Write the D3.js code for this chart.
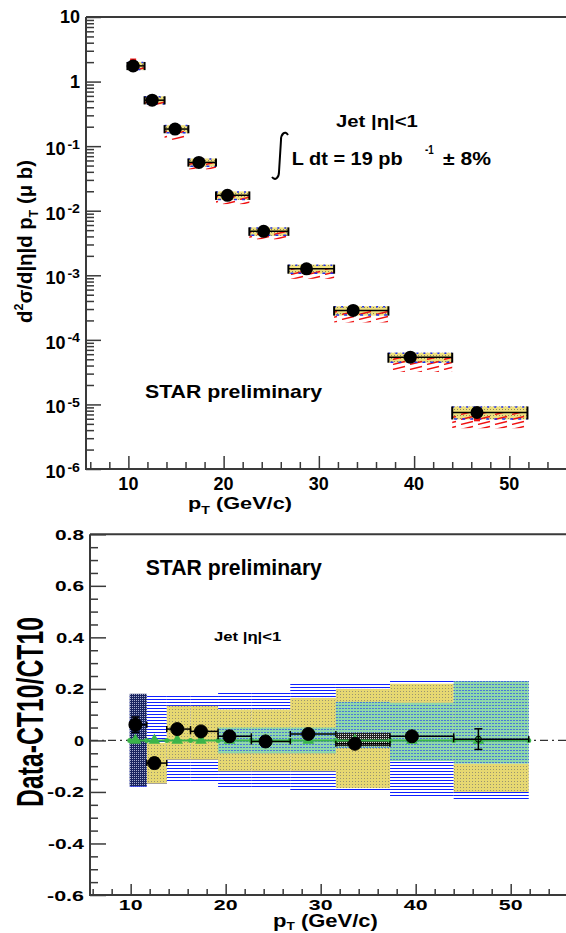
<!DOCTYPE html>
<html><head><meta charset="utf-8">
<script src="https://cdn.jsdelivr.net/npm/d3@7"></script>
<style>
body{margin:0;background:#fff}
svg{display:block}
text{font-family:"Liberation Sans",Arial,Helvetica,sans-serif;font-weight:bold;fill:#000}
</style>
</head><body>
<svg id="c" width="566" height="933"></svg>
<script>
// ---------------- data ----------------
const binLo=[9.9,11.7,13.8,16.3,19.2,22.7,26.8,31.6,37.3,44.0];
const binHi=[11.7,13.8,16.3,19.2,22.7,26.8,31.6,37.3,44.0,51.9];
const ptCenter=[10.5,12.5,14.9,17.4,20.4,24.2,28.7,33.6,39.6,46.6];
// cross section (micro-barn)
const xsec=[1.75,0.515,0.184,0.056,0.0173,0.0048,0.00126,0.000286,0.000054,0.0000075];
const sysUp=[0.15,0.15,0.15,0.15,0.15,0.15,0.16,0.16,0.17,0.24];
const sysDown=[0.14,0.14,0.14,0.14,0.15,0.15,0.16,0.17,0.18,0.22];
const redDown=[0.16,0.19,0.32,0.22,0.27,0.25,0.3,0.35,0.41,0.43];
const redBarUp=[0.3,0,0,0,0,0,0,0,0,0];
const redBarDown=[0,0,0,0,0,0,0,0,0.15,0.27];
// ratio panel
const ratio=[0.061,-0.088,0.044,0.035,0.016,-0.004,0.025,-0.013,0.016,0.005];
const ratioStat=[0.03,0.02,0.015,0.015,0.01,0.01,0.012,0.012,0.015,0.04];
const blueLo=[-0.18,-0.17,-0.165,-0.165,-0.185,-0.185,-0.2,-0.2,-0.22,-0.235];
const blueHi=[0.18,0.175,0.18,0.18,0.185,0.19,0.22,0.22,0.235,0.235];
const yellowLo=[null,-0.168,-0.075,-0.075,-0.12,-0.12,-0.12,-0.185,-0.08,-0.2];
const yellowHi=[null,-0.01,0.134,0.134,0.12,0.12,0.165,0.2,0.22,-0.09];
const greenLo=[null,null,null,null,-0.05,-0.05,-0.05,-0.03,-0.08,-0.09];
const greenHi=[null,null,null,null,0.05,0.05,0.05,0.15,0.146,0.23];
const navyLo=[-0.178,null,null,null,null,null,null,null,null,null];
const navyHi=[0.181,null,null,null,null,null,null,null,null,null];
const blackBoxLo=[null,null,null,null,null,null,null,-0.023,null,null];
const blackBoxHi=[null,null,null,null,null,null,null,0.03,null,null];
// ticks
const xTickVals=[10,20,30,40,50];
const xTickLabels=["10","20","30","40","50"];
const yTopTicks=[10,1,0.1,0.01,1e-3,1e-4,1e-5,1e-6];
const yTopBase=["10","1","10","10","10","10","10","10"];
const yTopExp=["","","-1","-2","-3","-4","-5","-6"];
const yBotTicks=[-0.6,-0.4,-0.2,0,0.2,0.4,0.6,0.8];
const yBotLabels=["-0.6","-0.4","-0.2","0","0.2","0.4","0.6","0.8"];

// ---------------- scales ----------------
const xTop=d3.scaleLinear().domain([5.55,60]).range([86,604.6]);
const yTop=d3.scaleLog().domain([1e-6,10]).range([469,17]);
const xBot=d3.scaleLinear().domain([5.72,60]).range([90,605.7]);
const yBot=d3.scaleLinear().domain([-0.6,0.8]).range([895,534.3]);

const svg=d3.select("#c");
const defs=svg.append("defs");
function pat(id,w,h,build,tr){const p=defs.append("pattern").attr("id",id).attr("patternUnits","userSpaceOnUse").attr("width",w).attr("height",h);if(tr)p.attr("patternTransform",tr);build(p);}
pat("yel",3,3,p=>{p.append("rect").attr("width",3).attr("height",3).attr("fill","#efe07e");p.append("rect").attr("x",1).attr("y",1).attr("width",1).attr("height",1).attr("fill","#8a8660");});
pat("yelB",3,3,p=>{p.append("rect").attr("width",3).attr("height",3).attr("fill","#e6d872");p.append("rect").attr("x",1).attr("y",1).attr("width",1).attr("height",1).attr("fill","#9a9470");});
pat("blueL",4,3,p=>{p.append("rect").attr("y",0).attr("width",4).attr("height",1).attr("fill","#1020ff");});
pat("grn",3,3,p=>{p.append("rect").attr("width",3).attr("height",3).attr("fill","#8fd8aa");p.append("rect").attr("width",2).attr("height",1).attr("fill","#4a78d8");});
pat("navy",2,2,p=>{p.append("rect").attr("width",2).attr("height",2).attr("fill","#1a2560");p.append("rect").attr("width",1).attr("height",1).attr("fill","#a8aed0");});
pat("blk",2,2,p=>{p.append("rect").attr("width",2).attr("height",2).attr("fill","#222");p.append("rect").attr("width",1).attr("height",1).attr("fill","#ddd");});
pat("redH",17,5,p=>{p.append("line").attr("x1",2).attr("y1",4.5).attr("x2",14).attr("y2",1.5).attr("stroke","#f01010").attr("stroke-width",1.3);});

function label(g,build,x,y,size,opt={}){
  const t=g.append("text").attr("font-size",size).attr("text-anchor",opt.anchor||"start");
  if(typeof build==="string") t.text(build); else build(t,size);
  const w=t.node().getBBox().width;
  const kx=opt.len?opt.len/w:1;
  t.attr("transform",`translate(${x},${y}) rotate(${opt.rot||0}) scale(${kx},${opt.ky||1})`);
  return t;
}
const frameCol="#3a3a3a";
const idx=d3.range(binLo.length);

// ================= TOP PANEL =================
const gt=svg.append("g");
gt.append("path").attr("d",`M86,17V469H566M86,17H566`).attr("fill","none").attr("stroke",frameCol).attr("stroke-width",2);
function styleAxis(g){g.select(".domain").remove();g.selectAll("line").attr("stroke",frameCol).attr("stroke-width",1.5);g.selectAll("text").remove();}
gt.append("g").attr("transform","translate(0,469)").call(d3.axisBottom(xTop).tickValues(xTickVals).tickSizeInner(-13).tickSizeOuter(0).tickFormat("")).call(styleAxis);
const xMinor=d3.range(6,60,2).filter(v=>v%10!==0);
gt.append("g").attr("transform","translate(0,469)").call(d3.axisBottom(xTop).tickValues(xMinor).tickSizeInner(-7).tickSizeOuter(0).tickFormat("")).call(styleAxis);
gt.append("g").attr("transform","translate(86,0)").call(d3.axisLeft(yTop).tickValues(yTopTicks).tickSizeInner(-15).tickSizeOuter(0).tickFormat("")).call(styleAxis);
const yMinor=[];[1e-6,1e-5,1e-4,1e-3,1e-2,1e-1,1].forEach(d=>{for(let k=2;k<=9;k++)yMinor.push(k*d);});
gt.append("g").attr("transform","translate(86,0)").call(d3.axisLeft(yTop).tickValues(yMinor).tickSizeInner(-8).tickSizeOuter(0).tickFormat("")).call(styleAxis);
xTickVals.forEach((v,i)=>label(gt,xTickLabels[i],xTop(v),490,18,{anchor:"middle"}));
yTopTicks.forEach((v,i)=>{
  const y=yTop(v);
  if(yTopExp[i]===""){label(gt,yTopBase[i],80,y+6.3,18,{anchor:"end"});}
  else{label(gt,yTopBase[i],65.5,y+9,18,{anchor:"end"});label(gt,yTopExp[i],80,y+2.5,12,{anchor:"end",len:13});}
});
label(gt,(t,s)=>{t.append("tspan").text("p");t.append("tspan").attr("font-size",s*0.65).attr("dy",s*0.3).text("T");t.append("tspan").attr("dy",-s*0.3).text(" (GeV/c)");},188,509,17,{len:104});
label(gt,(t,s)=>{t.append("tspan").text("d");t.append("tspan").attr("font-size",s*0.62).attr("dy",-s*0.4).text("2");t.append("tspan").attr("dy",s*0.4).text("σ/d|η|d p");t.append("tspan").attr("font-size",s*0.62).attr("dy",s*0.3).text("T");t.append("tspan").attr("dy",-s*0.3).text(" (μ b)");},31.5,241.5,21,{anchor:"middle",rot:-90,len:163});
label(gt,"STAR preliminary",145,398,18.5,{len:178});
label(gt,"Jet |η|<1",336,126.7,16,{len:82});
gt.append("path").attr("d","M288,135 C285,130 281,134 281,140 L279,172 C279,178 275,181 272,177").attr("fill","none").attr("stroke","#000").attr("stroke-width",2);
label(gt,"L dt  = 19 pb",291.7,165,18.5,{len:111});
label(gt,"-1",425,154,12,{len:9});
label(gt,"± 8%",443,165,18.5,{len:48});

const tb=gt.append("g");
idx.forEach(i=>{
  const x0=xTop(binLo[i]),x1=xTop(binHi[i]),v=xsec[i];
  const yU=yTop(v*(1+sysUp[i])),yD=yTop(v*(1-sysDown[i])),yc=yTop(v);
  tb.append("rect").attr("x",x0).attr("y",yU).attr("width",x1-x0).attr("height",yD-yU).attr("fill","url(#yel)");
  tb.append("rect").attr("x",x0).attr("y",yc).attr("width",x1-x0).attr("height",yTop(v*(1-redDown[i]))-yc).attr("fill","url(#redH)");
  tb.append("line").attr("x1",x0).attr("x2",x1).attr("y1",yU+0.5).attr("y2",yU+0.5).attr("stroke","#2030f0").attr("stroke-width",1.5).attr("stroke-dasharray","2,5");
  tb.append("line").attr("x1",x0+2).attr("x2",x1).attr("y1",yD-0.5).attr("y2",yD-0.5).attr("stroke","#2030f0").attr("stroke-width",1.5).attr("stroke-dasharray","3,5");
  tb.append("line").attr("x1",x0).attr("x2",x1).attr("y1",yc).attr("y2",yc).attr("stroke","#000").attr("stroke-width",1.5);
  [x0,x1].forEach(xx=>tb.append("line").attr("x1",xx).attr("x2",xx).attr("y1",yU).attr("y2",yD).attr("stroke","#000").attr("stroke-width",2));
  if(redBarUp[i]>0||redBarDown[i]>0){
    const ru=yTop(v*(1+redBarUp[i])),rd=yTop(v*(1-redBarDown[i]));
    tb.append("rect").attr("x",xTop(ptCenter[i])-3).attr("y",ru).attr("width",6).attr("height",rd-ru).attr("fill","#ee1111");
  }
  tb.append("circle").attr("cx",xTop(ptCenter[i])).attr("cy",yc).attr("r",6.5).attr("fill","#000");
});

// ================= BOTTOM PANEL =================
const gb=svg.append("g");
gb.append("line").attr("x1",90).attr("x2",566).attr("y1",yBot(0)).attr("y2",yBot(0)).attr("stroke","#333").attr("stroke-width",1.2).attr("stroke-dasharray","8,4,2,4");
function band(lo,hi,fill){idx.forEach(i=>{if(lo[i]===null||hi[i]===null)return;const x0=xBot(binLo[i]),x1=xBot(binHi[i]);gb.append("rect").attr("x",x0).attr("y",yBot(hi[i])).attr("width",x1-x0).attr("height",yBot(lo[i])-yBot(hi[i])).attr("fill",fill);});}
band(blueLo,blueHi,"url(#blueL)");
band(yellowLo,yellowHi,"url(#yelB)");
band(greenLo,greenHi,"url(#grn)");
band(navyLo,navyHi,"url(#navy)");
band(blackBoxLo,blackBoxHi,"url(#blk)");
gb.append("line").attr("x1",xBot(binLo[0])).attr("x2",xBot(binHi[binHi.length-1])).attr("y1",yBot(0)).attr("y2",yBot(0)).attr("stroke","#3bb54a").attr("stroke-width",2);
const edges=binLo.concat([binHi[binHi.length-1]]);
edges.forEach(e=>gb.append("circle").attr("cx",xBot(e)).attr("cy",yBot(0)).attr("r",2.5).attr("fill","#3bb54a"));
idx.forEach(i=>gb.append("path").attr("d",d3.symbol(d3.symbolTriangle).size(60)()).attr("transform",`translate(${xBot(ptCenter[i])},${yBot(0)})`).attr("fill","#3bb54a"));
idx.forEach(i=>{
  const x0=xBot(binLo[i]),x1=xBot(binHi[i]),xc=xBot(ptCenter[i]),yc=yBot(ratio[i]);
  gb.append("line").attr("x1",x0).attr("x2",x1).attr("y1",yc).attr("y2",yc).attr("stroke","#000").attr("stroke-width",1.5);
  [x0,x1].forEach(xx=>gb.append("line").attr("x1",xx).attr("x2",xx).attr("y1",yc-3).attr("y2",yc+3).attr("stroke","#000").attr("stroke-width",1.5));
  const yu=yBot(ratio[i]+ratioStat[i]),yd=yBot(ratio[i]-ratioStat[i]);
  gb.append("line").attr("x1",xc).attr("x2",xc).attr("y1",yu).attr("y2",yd).attr("stroke","#000").attr("stroke-width",1.5);
  [yu,yd].forEach(yy=>gb.append("line").attr("x1",xc-4).attr("x2",xc+4).attr("y1",yy).attr("y2",yy).attr("stroke","#000").attr("stroke-width",1.5));
  gb.append("circle").attr("cx",xc).attr("cy",yc).attr("r",i===9?3:6.5).attr("fill",i===9?"none":"#000").attr("stroke","#000").attr("stroke-width",1);
});
gb.append("path").attr("d",`M90,534.3V895H566M90,534.3H566`).attr("fill","none").attr("stroke",frameCol).attr("stroke-width",2);
gb.append("g").attr("transform","translate(0,895)").call(d3.axisBottom(xBot).tickValues(xTickVals).tickSizeInner(-11).tickSizeOuter(0).tickFormat("")).call(styleAxis);
gb.append("g").attr("transform","translate(0,895)").call(d3.axisBottom(xBot).tickValues(xMinor).tickSizeInner(-6).tickSizeOuter(0).tickFormat("")).call(styleAxis);
gb.append("g").attr("transform","translate(90,0)").call(d3.axisLeft(yBot).tickValues(yBotTicks).tickSizeInner(-16).tickSizeOuter(0).tickFormat("")).call(styleAxis);
const yBotMinor=d3.range(-12,17).map(k=>k*0.05).filter(v=>Math.abs(Math.round(v*5)-v*5)>1e-6);
gb.append("g").attr("transform","translate(90,0)").call(d3.axisLeft(yBot).tickValues(yBotMinor).tickSizeInner(-8).tickSizeOuter(0).tickFormat("")).call(styleAxis);
xTickVals.forEach((v,i)=>label(gb,xTickLabels[i],xBot(v),910,15,{anchor:"middle",len:23.7}));
yBotTicks.forEach((v,i)=>{const s=yBotLabels[i];label(gb,s,84,yBot(v)+5.5,15,{anchor:"end",len:s==="0"?10:(s[0]==="-"?37:29)});});
label(gb,(t,s)=>{t.append("tspan").text("p");t.append("tspan").attr("font-size",s*0.62).attr("dy",s*0.22).text("T");t.append("tspan").attr("dy",-s*0.22).text(" (GeV/c)");},273,926.5,18,{len:105});
label(gb,"Data-CT10/CT10",43,712,26,{anchor:"middle",rot:-90,len:190,ky:1.4});
label(gb,"STAR preliminary",145.7,575,22,{len:177});
label(gb,"Jet |η|<1",214,641,13.5,{len:68});
</script>
</body></html>
